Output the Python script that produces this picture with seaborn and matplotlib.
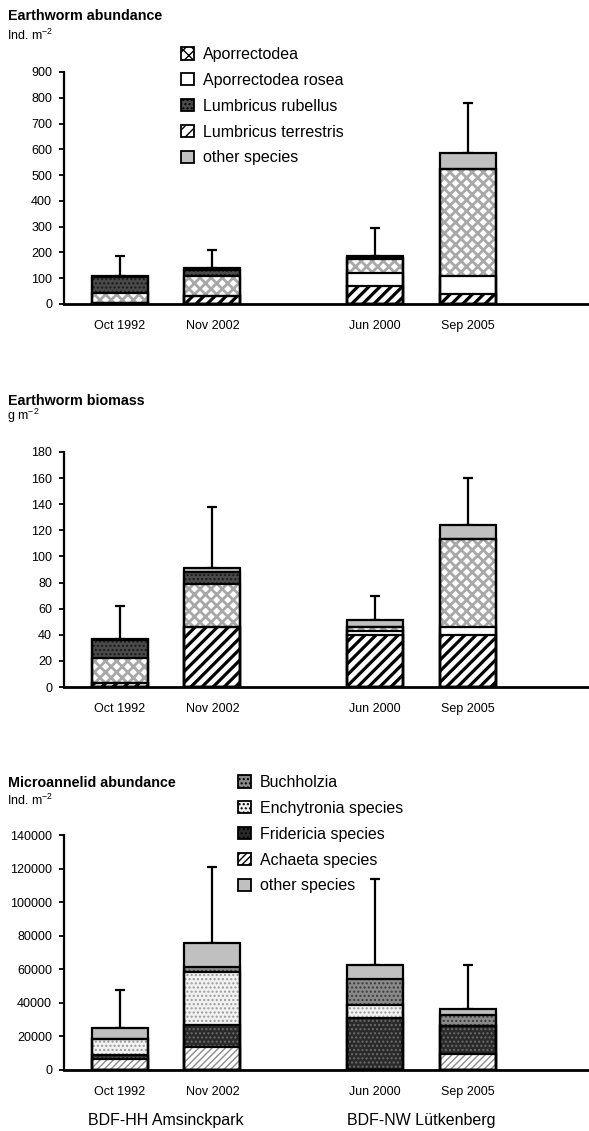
import numpy as np
import matplotlib
matplotlib.use("Agg")
import matplotlib.pyplot as plt
import matplotlib.transforms as mtransforms
from matplotlib.patches import Patch
import seaborn as sns

# ---------------- data ----------------
dates = ["Oct 1992", "Nov 2002", "Jun 2000", "Sep 2005"]
sites = ["BDF-HH Amsinckpark", "BDF-NW Lütkenberg"]

# Earthworm abundance (Ind. m-2), stack order bottom -> top
abund_terrestris = [3, 30, 70, 38]
abund_rosea = [0, 0, 52, 70]
abund_aporrectodea = [40, 78, 52, 414]
abund_rubellus = [61, 25, 6, 0]
abund_other = [3, 7, 5, 63]
abund_err = [186, 208, 295, 780]

# Earthworm biomass (g m-2)
bio_terrestris = [3, 46, 40, 40]
bio_rosea = [0, 0, 3, 6]
bio_aporrectodea = [19, 33, 3, 67]
bio_rubellus = [14, 9, 0, 0]
bio_other = [1, 3, 5, 11]
bio_err = [62, 138, 69.5, 160]

# Microannelid abundance (Ind. m-2)
micro_achaeta = [6400, 13900, 0, 9500]
micro_fridericia = [2600, 12700, 31200, 16500]
micro_enchytronia = [9500, 31800, 7800, 0]
micro_buchholzia = [0, 2800, 15300, 7000]
micro_other = [6500, 14700, 8300, 3200]
micro_err = [47800, 121000, 113500, 62500]

abund_ticks = [0, 100, 200, 300, 400, 500, 600, 700, 800, 900]
bio_ticks = [0, 20, 40, 60, 80, 100, 120, 140, 160, 180]
micro_ticks = [0, 20000, 40000, 60000, 80000, 100000, 120000, 140000]

# ---------------- layout / styles ----------------
XPOS = [0.0, 1.0, 2.76, 3.77]
BAR_W = 0.607
XLIM = (-0.607, 5.081)
W, H = 589, 1131

# style: (facecolor, hatch, hatchcolor, hatch linewidth)
ST = {
    "Aporrectodea": ("white", "xxx", "#a8a8a8", 2.0),
    "Aporrectodea rosea": ("white", "", "white", 1.0),
    "Lumbricus rubellus": ("#4a4a4a", "....", "#1a1a1a", 1.0),
    "Lumbricus terrestris": ("white", "///", "black", 2.3),
    "other species": ("#c0c0c0", "", "#c0c0c0", 1.0),
    "Buchholzia": ("#8a8a8a", "....", "#3a3a3a", 1.0),
    "Enchytronia species": ("#f2f2f2", "....", "#9a9a9a", 1.0),
    "Fridericia species": ("#2a2a2a", "....", "#6a6a6a", 1.0),
    "Achaeta species": ("white", "/////", "#8c8c8c", 1.0),
}

sns.set_theme(style="ticks")
plt.rcParams["font.family"] = ["Liberation Sans", "DejaVu Sans"]
plt.rcParams["mathtext.fontset"] = "custom"
plt.rcParams["mathtext.rm"] = "Liberation Sans"
plt.rcParams["mathtext.default"] = "regular"
plt.rcParams["hatch.linewidth"] = 1.0
plt.rcParams["text.color"] = "black"
plt.rcParams["xtick.color"] = "black"
plt.rcParams["ytick.color"] = "black"
plt.rcParams["axes.labelcolor"] = "black"

fig = plt.figure(figsize=(W / 100, H / 100), dpi=100)


def ax_box(top_px, bottom_px):
    return [64 / W, 1 - bottom_px / H, (W - 64) / W, (bottom_px - top_px) / H]


def style_patch(p, face, hatch, hcol, hlw):
    p.set_facecolor(face)
    p.set_hatch(hatch if hatch else None)
    p.set_edgecolor(hcol)
    p.set_linewidth(0)
    try:
        p.set_hatch_linewidth(hlw)
    except Exception:
        pass


def draw_panel(ax, layers, err, ticks):
    vals = np.array([v for _, v in layers], dtype=float)
    cum = np.cumsum(vals, axis=0)
    n = len(layers)
    # fills, top layer first, lower layers overlay
    for i in range(n - 1, -1, -1):
        name = layers[i][0]
        face, hatch, hcol, hlw = ST[name]
        before = len(ax.patches)
        sns.barplot(x=XPOS, y=cum[i], native_scale=True, orient="x",
                    width=BAR_W, color="#888888", errorbar=None, ax=ax)
        for p in ax.patches[before:]:
            style_patch(p, face, hatch, hcol, hlw)
    # outlines
    for i in range(n):
        before = len(ax.patches)
        sns.barplot(x=XPOS, y=cum[i], native_scale=True, orient="x",
                    width=BAR_W, color="black", errorbar=None, ax=ax)
        for p in ax.patches[before:]:
            p.set_facecolor("none")
            p.set_hatch(None)
            p.set_edgecolor("black")
            p.set_linewidth(1.6)
    totals = cum[-1]
    err = np.asarray(err, dtype=float)
    ax.errorbar(XPOS, totals, yerr=[np.zeros_like(totals), err - totals],
                fmt="none", ecolor="black", elinewidth=1.6, capsize=3.6,
                capthick=1.6, zorder=0.5)
    ax.set_xlim(*XLIM)
    ax.set_ylim(0, ticks[-1])
    ax.set_yticks(ticks)
    ax.set_yticklabels([str(t) for t in ticks])
    ax.set_xticks(XPOS)
    ax.set_xticklabels(dates)
    ax.set_xlabel("")
    ax.set_ylabel("")
    ax.tick_params(axis="x", length=0, pad=11.5, labelsize=9, colors="black")
    ax.tick_params(axis="y", length=3.6, width=1.3, direction="out",
                   pad=5, labelsize=9, colors="black")
    sns.despine(ax=ax)
    ax.spines["left"].set_linewidth(1.6)
    ax.spines["bottom"].set_linewidth(2.0)
    ax.spines["left"].set_color("black")
    ax.spines["bottom"].set_color("black")
    ax.patch.set_alpha(0)


ax1 = fig.add_axes(ax_box(72, 304))
draw_panel(ax1, [("Lumbricus terrestris", abund_terrestris),
                 ("Aporrectodea rosea", abund_rosea),
                 ("Aporrectodea", abund_aporrectodea),
                 ("Lumbricus rubellus", abund_rubellus),
                 ("other species", abund_other)], abund_err, abund_ticks)

ax2 = fig.add_axes(ax_box(452, 687))
draw_panel(ax2, [("Lumbricus terrestris", bio_terrestris),
                 ("Aporrectodea rosea", bio_rosea),
                 ("Aporrectodea", bio_aporrectodea),
                 ("Lumbricus rubellus", bio_rubellus),
                 ("other species", bio_other)], bio_err, bio_ticks)

ax3 = fig.add_axes(ax_box(835, 1070))
draw_panel(ax3, [("Achaeta species", micro_achaeta),
                 ("Fridericia species", micro_fridericia),
                 ("Enchytronia species", micro_enchytronia),
                 ("Buchholzia", micro_buchholzia),
                 ("other species", micro_other)], micro_err, micro_ticks)


def fy(px):
    return 1 - px / H


# titles and units
fig.text(8 / W, fy(20), "Earthworm abundance", fontsize=10.3, fontweight="bold", va="baseline")
fig.text(7 / W, fy(40), "Ind. m$^{-2}$", fontsize=9, va="baseline")
fig.text(8 / W, fy(405), "Earthworm biomass", fontsize=10.3, fontweight="bold", va="baseline")
fig.text(7 / W, fy(420), "g m$^{-2}$", fontsize=9, va="baseline")
fig.text(8 / W, fy(787), "Microannelid abundance", fontsize=10.3, fontweight="bold", va="baseline")
fig.text(7 / W, fy(805), "Ind. m$^{-2}$", fontsize=9, va="baseline")

# site labels
tr = mtransforms.blended_transform_factory(ax3.transData, fig.transFigure)
fig.text((XPOS[0] + XPOS[1]) / 2, fy(1121), sites[0], transform=tr,
         ha="center", va="center", fontsize=11.5)
fig.text((XPOS[2] + XPOS[3]) / 2, fy(1121), sites[1], transform=tr,
         ha="center", va="center", fontsize=11.5)


def legend_handles(names):
    hs = []
    for nm in names:
        face, hatch, hcol, hlw = ST[nm]
        hs.append(Patch(facecolor=face, hatch=hatch if hatch else None,
                        edgecolor="black", linewidth=1.3, label=nm))
    return hs


leg_kw = dict(loc="upper left", frameon=False, fontsize=11.5, borderpad=0,
              borderaxespad=0, handlelength=0.8, handleheight=0.8,
              handletextpad=0.55, labelspacing=0.68)
names1 = ["Aporrectodea", "Aporrectodea rosea", "Lumbricus rubellus",
          "Lumbricus terrestris", "other species"]
fig.legend(handles=legend_handles(names1), bbox_to_anchor=(181 / W, fy(47)), **leg_kw)
names3 = ["Buchholzia", "Enchytronia species", "Fridericia species",
          "Achaeta species", "other species"]
fig.legend(handles=legend_handles(names3), bbox_to_anchor=(238 / W, fy(775)), **leg_kw)

fig.savefig("out.png", dpi=100)
